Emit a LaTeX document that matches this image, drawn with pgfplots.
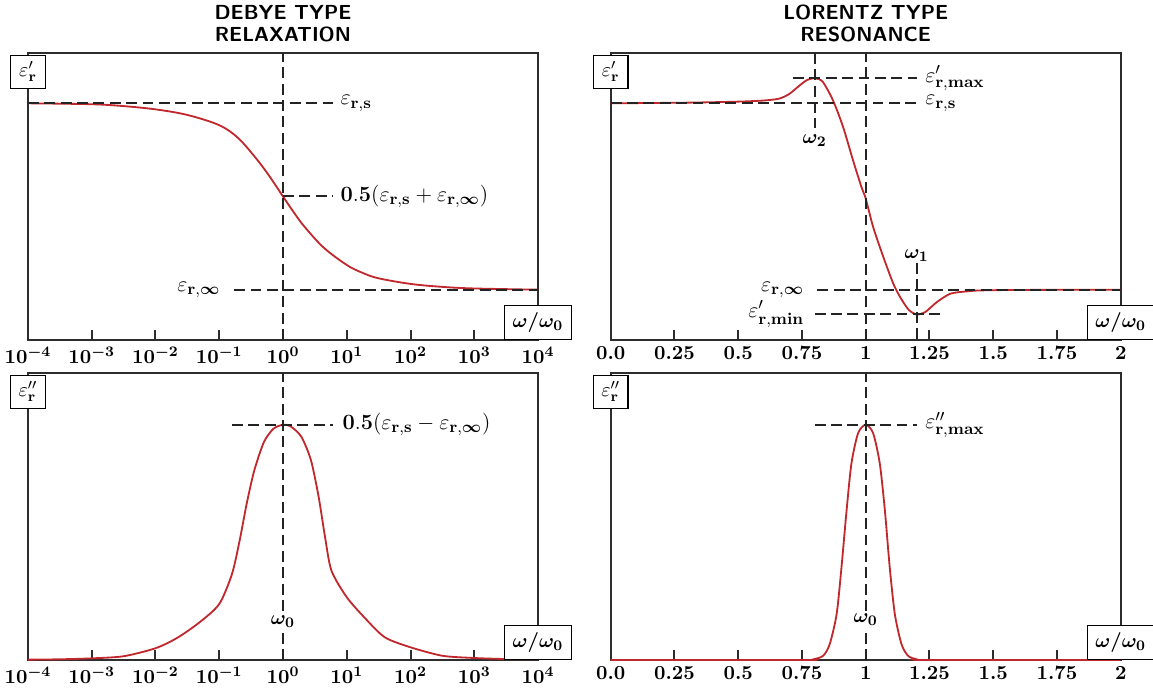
\documentclass[11pt,border=0pt]{standalone}
\usepackage{pgfplots}
\pgfplotsset{compat=1.18}
\usepackage{amsmath}
\definecolor{curvered}{RGB}{192,40,45}
\definecolor{framec}{RGB}{45,45,45}
\definecolor{dashc}{RGB}{35,35,35}

\pgfplotstableread{
x y
1e-4 3.000
1e-3 2.990
3.162e-3 2.970
0.01 2.935
0.03162 2.875
0.1 2.765
0.1995 2.625
0.3981 2.390
0.6310 2.205
1 2.0
1.585 1.800
2.239 1.665
4.365 1.450
10 1.265
17.78 1.180
31.62 1.122
100 1.062
316.2 1.030
1000 1.013
1e4 1.000
}\debyereal

\pgfplotstableread{
x y
1e-4 0.0014
3.162e-4 0.003
1e-3 0.007
3.162e-3 0.016
0.01 0.050
0.02188 0.094
0.04898 0.160
0.1 0.238
0.1585 0.366
0.2089 0.508
0.2692 0.664
0.3548 0.806
0.5012 0.926
0.7079 0.983
1 1.0
1.318 0.993
1.950 0.948
2.754 0.848
3.631 0.692
4.571 0.522
5.754 0.380
10 0.267
19.95 0.174
39.81 0.096
100 0.054
316.2 0.018
1000 0.0085
3162 0.004
1e4 0.003
}\debyeimag

\pgfplotstableread{
x y
0.0 3.000
0.3 3.007
0.5 3.018
0.6 3.030
0.66 3.050
0.70 3.100
0.74 3.190
0.77 3.250
0.8 3.269
0.831 3.232
0.871 3.035
0.911 2.748
0.95 2.390
0.983 2.103
1.0 1.978
1.029 1.673
1.069 1.351
1.108 1.065
1.135 0.920
1.168 0.785
1.2 0.734
1.233 0.759
1.279 0.867
1.332 0.957
1.398 0.982
1.451 0.992
1.6 0.997
2.0 1.000
}\lorentzreal

\pgfplotstableread{
x y
0.0 0.0
0.75 0.0
0.794 0.003
0.833 0.018
0.859 0.068
0.886 0.196
0.905 0.395
0.925 0.637
0.944 0.836
0.970 0.964
1.0 1.0
1.029 0.964
1.055 0.836
1.075 0.637
1.094 0.395
1.114 0.196
1.140 0.068
1.166 0.018
1.199 0.003
1.25 0.0
2.0 0.0
}\lorentzimag

\pgfplotsset{
  panel/.style={
    scale only axis, width=280.5pt, height=157.85pt, anchor=south west,
    axis line style={framec, line width=1.1pt},
    ytick=\empty, xtick pos=left, xtick align=inside, major tick length=5.5pt,
    every tick/.style={framec, line width=1.1pt},
    xticklabel style={font=\boldmath, text=black},
    every axis x label/.style={at={(rel axis cs:1,0)}, anchor=south, draw=black, line width=0.6pt, fill=white, minimum height=18.7pt, minimum width=37pt, inner sep=2pt},
    every axis y label/.style={at={(rel axis cs:0,1)}, anchor=north, yshift=-1pt, draw=black, line width=0.6pt, fill=white, minimum height=18pt, minimum width=19pt, inner sep=2pt},
    xlabel={$\boldsymbol{\omega/\omega_0}$},
    every axis title/.style={at={(0.5,1)}, anchor=south, yshift=2pt, align=center, font=\fontsize{11.2}{12.1}\selectfont\sffamily\bfseries},
  },
  guide/.style={dashc, line width=1.1pt, dash pattern=on 6pt off 3pt, mark=none},
  redc/.style={curvered, line width=1pt, smooth, tension=0.45, mark=none},
}
\tikzset{ann/.style={inner sep=0pt, font=\fontsize{12.4}{14}\selectfont}}

\begin{document}
\begin{tikzpicture}
\useasboundingbox (0,0) rectangle (634.15pt,380.05pt);

% top left
\begin{axis}[panel, xmode=log, xmin=1e-4, xmax=1e4,
  xtick={1e-4,1e-3,1e-2,1e-1,1,1e1,1e2,1e3,1e4}, xminorticks=false,
  at={(15.4pt,193.05pt)}, ymin=0.46, ymax=3.54,
  title={DEBYE TYPE\\RELAXATION}, ylabel={$\varepsilon'_{\mathbf{r}}$}]
\addplot[redc, tension=0.55] table[x=x,y=y] {\debyereal};
\addplot[guide] coordinates {(1e-4,3) (6.17,3)};
\addplot[guide] coordinates {(1,2) (6.17,2)};
\addplot[guide] coordinates {(0.1714,1) (1e4,1)};
\addplot[guide] coordinates {(1,0.46) (1,3.54)};
\node[ann, anchor=west] at (axis cs:7.94,3) {$\varepsilon_{\mathbf{r,s}}$};
\node[ann, anchor=west] at (axis cs:7.94,2) {$\mathbf{0.5}(\varepsilon_{\mathbf{r,s}}+\varepsilon_{\mathbf{r},\boldsymbol{\infty}})$};
\node[ann, anchor=east] at (axis cs:0.1054,1) {$\varepsilon_{\mathbf{r},\boldsymbol{\infty}}$};
\end{axis}

% bottom left
\begin{axis}[panel, xmode=log, xmin=1e-4, xmax=1e4,
  xtick={1e-4,1e-3,1e-2,1e-1,1,1e1,1e2,1e3,1e4}, xminorticks=false,
  at={(15.4pt,17.05pt)}, ymin=0, ymax=1.22,
  ylabel={$\varepsilon''_{\mathbf{r}}$}]
\addplot[redc] table[x=x,y=y] {\debyeimag};
\addplot[guide] coordinates {(0.1585,1) (6.17,1)};
\addplot[guide] coordinates {(1,0) (1,1.22)};
\node[ann, anchor=west] at (axis cs:8.51,1) {$\mathbf{0.5}(\varepsilon_{\mathbf{r,s}}-\varepsilon_{\mathbf{r},\boldsymbol{\infty}})$};
\node[fill=white, inner sep=1.5pt] at (axis cs:1,0.163) {$\boldsymbol{\omega_0}$};
\end{axis}

% top right
\begin{axis}[panel, xmin=0, xmax=2, xtick={0,0.25,0.5,0.75,1,1.25,1.5,1.75,2},
  xticklabels={$0.0$,$0.25$,$0.5$,$0.75$,$1$,$1.25$,$1.5$,$1.75$,$2$},
  at={(335.9pt,193.05pt)}, ymin=0.46, ymax=3.54,
  title={LORENTZ TYPE\\RESONANCE}, ylabel={$\varepsilon'_{\mathbf{r}}$}]
\addplot[redc] table[x=x,y=y] {\lorentzreal};
\addplot[guide] coordinates {(0.715,3.269) (1.2,3.269)};
\addplot[guide] coordinates {(0,3) (1.2,3)};
\addplot[guide] coordinates {(0.81,1) (2,1)};
\addplot[guide] coordinates {(0.80,0.734) (1.29,0.734)};
\addplot[guide] coordinates {(1,0.46) (1,3.54)};
\addplot[guide] coordinates {(0.8,3.54) (0.8,2.73)};
\addplot[guide] coordinates {(1.2,1.29) (1.2,0.46)};
\node[ann, anchor=west] at (axis cs:1.232,3.269) {$\varepsilon'_{\mathbf{r,max}}$};
\node[ann, anchor=west] at (axis cs:1.232,3) {$\varepsilon_{\mathbf{r,s}}$};
\node[ann, anchor=east] at (axis cs:0.76,1) {$\varepsilon_{\mathbf{r},\boldsymbol{\infty}}$};
\node[ann, anchor=east] at (axis cs:0.76,0.734) {$\varepsilon'_{\mathbf{r,min}}$};
\node[inner sep=1pt] at (axis cs:0.8,2.60) {$\boldsymbol{\omega_2}$};
\node[inner sep=1pt] at (axis cs:1.2,1.37) {$\boldsymbol{\omega_1}$};
\end{axis}

% bottom right
\begin{axis}[panel, xmin=0, xmax=2, xtick={0,0.25,0.5,0.75,1,1.25,1.5,1.75,2},
  xticklabels={$0.0$,$0.25$,$0.5$,$0.75$,$1$,$1.25$,$1.5$,$1.75$,$2$},
  at={(335.9pt,17.05pt)}, ymin=0, ymax=1.22,
  ylabel={$\varepsilon''_{\mathbf{r}}$}]
\addplot[redc] table[x=x,y=y] {\lorentzimag};
\addplot[guide] coordinates {(0.8,1) (1.2,1)};
\addplot[guide] coordinates {(1,0) (1,1.22)};
\node[ann, anchor=west] at (axis cs:1.232,1) {$\varepsilon''_{\mathbf{r,max}}$};
\node[fill=white, inner sep=1.5pt] at (axis cs:1,0.17) {$\boldsymbol{\omega_0}$};
\end{axis}
\end{tikzpicture}
\end{document}
